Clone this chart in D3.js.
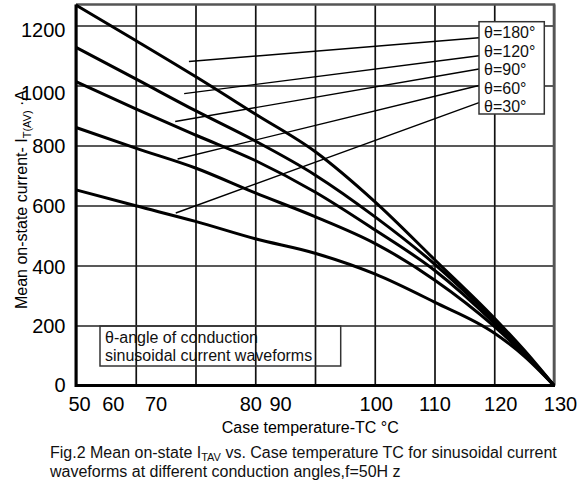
<!DOCTYPE html>
<html><head><meta charset="utf-8">
<script src="https://cdn.jsdelivr.net/npm/d3@7"></script>
<style>
html,body{margin:0;padding:0;background:#fff;}
svg{display:block;font-family:"Liberation Sans",Arial,Helvetica,sans-serif;}
</style></head><body>
<svg id="chart" width="587" height="482"></svg>
<script>
// ---- data ----
const tempC    = [50, 60, 70, 80, 90, 100, 110, 120, 125, 130];
const theta180 = [1268, 1150, 1030, 905, 780, 613, 420, 225, 118, 0];
const theta120 = [1127, 1022, 916, 815, 702, 563, 405, 217, 113, 0];
const theta90  = [1013, 922, 835, 750, 645, 519, 384, 208, 108, 0];
const theta60  = [860, 791, 725, 642, 563, 474, 352, 197, 104, 0];
const theta30  = [652, 599, 547, 489, 441, 372, 278, 175, 98, 0];
const seriesNames = ["θ=180°", "θ=120°", "θ=90°", "θ=60°", "θ=30°"];
// leader-line anchors in data units (temperature, current)
const leaderStartT = [68.9, 68.1, 66.6, 67.0, 66.7];
const leaderStartI = [1080, 973, 880, 755, 575];
const leaderEndI   = [1159, 1099, 1055, 1000, 943];
const xTickValues = [50, 60, 70, 80, 90, 100, 110, 120, 130];
const yTickValues = [0, 200, 400, 600, 800, 1000, 1200];
const noteLines = ["θ-angle of conduction", "sinusoidal current waveforms"];

// ---- layout ----
const xLabelShift = [3, -23, -40, -5, -35, 1, 0, 6, 6];
const yLabelShift = [-1, 0, 1, 0, 0, 7, 4];
const L = 76, R = 554, T = 4.5, B = 385.5;

const svg = d3.select("#chart");
const x = d3.scaleLinear().domain([50, 130]).range([L, R]);
const y = d3.scaleLinear().domain([0, 1270]).range([B, T]);

// note box (transparent, grid shows through)
const note = svg.append("g");
note.append("rect").attr("x", 100).attr("y", 326).attr("width", 240.7).attr("height", 40)
  .attr("fill", "#fcfcfc").attr("stroke", "#333").attr("stroke-width", 1.5);

// grid
const gx = svg.append("g").attr("transform", `translate(0,${B})`)
  .call(d3.axisBottom(x).tickValues(xTickValues).tickSize(-(B - T)).tickFormat(""));
gx.select(".domain").remove();
gx.selectAll("line").attr("stroke", "#111").attr("stroke-width", 1.7);

const gy = svg.append("g").attr("transform", `translate(${L},0)`)
  .call(d3.axisLeft(y).tickValues(yTickValues).tickSize(-(R - L)).tickFormat(""));
gy.select(".domain").remove();
gy.selectAll("line").attr("stroke", "#222").attr("stroke-width", 1.7);

note.raise();
note.select("rect").attr("fill", "none");
noteLines.forEach((t, i) => {
  note.append("text").attr("x", 105).attr("y", 343 + i * 17.7)
    .attr("font-size", 16).attr("fill", "#111").text(t);
});

// frame
svg.append("path").attr("d", `M${L},${T}H${R}V${B}`)
  .attr("fill", "none").attr("stroke", "#555").attr("stroke-width", 2.6);
svg.append("path").attr("d", `M${L},${T}V${B}H${R + 1}`)
  .attr("fill", "none").attr("stroke", "#000").attr("stroke-width", 3);

// legend box
const lg = { x: 479, y: 21.7, w: 65.3, h: 92.3 };

// leader lines
seriesNames.forEach((n, i) => {
  svg.append("line")
    .attr("x1", x(leaderStartT[i])).attr("y1", y(leaderStartI[i]))
    .attr("x2", lg.x).attr("y2", y(leaderEndI[i]))
    .attr("stroke", "#000").attr("stroke-width", 1.4);
});

// curves
const series = [theta180, theta120, theta90, theta60, theta30];
const line = d3.line().x((d, i) => x(tempC[i])).y(d => y(d)).curve(d3.curveMonotoneX);
series.forEach(s => {
  svg.append("path").datum(s).attr("d", line)
    .attr("fill", "none").attr("stroke", "#000").attr("stroke-width", 3)
    .attr("stroke-linejoin", "round");
});

svg.append("rect").attr("x", lg.x).attr("y", lg.y).attr("width", lg.w).attr("height", lg.h)
  .attr("fill", "#fff").attr("stroke", "#333").attr("stroke-width", 1.5);
seriesNames.forEach((n, i) => {
  svg.append("text").attr("x", 484).attr("y", 38.3 + i * 18.4)
    .attr("font-size", 16).attr("fill", "#111").text(n);
});

// tick labels
const ax = svg.append("g").attr("transform", `translate(0,${B})`)
  .call(d3.axisBottom(x).tickValues(xTickValues).tickSize(0).tickPadding(0).tickFormat(d3.format("d")));
ax.select(".domain").remove();
ax.selectAll("text").attr("font-size", 20).attr("font-family", null).attr("fill", "#000")
  .attr("dy", null).attr("y", 25)
  .attr("dx", (d, i) => xLabelShift[i]);

const ay = svg.append("g").attr("transform", `translate(65.5,0)`)
  .call(d3.axisLeft(y).tickValues(yTickValues).tickSize(0).tickPadding(0).tickFormat(d3.format("d")));
ay.select(".domain").remove();
ay.selectAll("text").attr("font-size", 20).attr("font-family", null).attr("fill", "#000")
  .attr("dy", null).attr("y", (d, i) => 7 + yLabelShift[i]);

// axis titles
svg.append("text").attr("x", 221.7).attr("y", 433).attr("font-size", 16).attr("fill", "#000")
  .text("Case temperature-TC °C");

const yt = svg.append("text").attr("transform", "translate(27,199.5) rotate(-90)")
  .attr("text-anchor", "middle").attr("font-size", 16).attr("fill", "#000");
yt.append("tspan").text("Mean on-state current- I");
yt.append("tspan").attr("font-size", 11).attr("dy", 4).text("T(AV)");
yt.append("tspan").attr("dy", -4).text(" ·A");

// caption
const c1 = svg.append("text").attr("x", 50).attr("y", 458).attr("font-size", 16).attr("fill", "#111");
c1.append("tspan").text("Fig.2 Mean on-state I");
c1.append("tspan").attr("font-size", 11).attr("dy", 3).text("TAV");
c1.append("tspan").attr("dy", -3).text(" vs. Case temperature TC for sinusoidal current");
svg.append("text").attr("x", 50).attr("y", 477).attr("font-size", 16).attr("fill", "#111")
  .text("waveforms at different conduction angles,f=50H z");
</script>
</body></html>
